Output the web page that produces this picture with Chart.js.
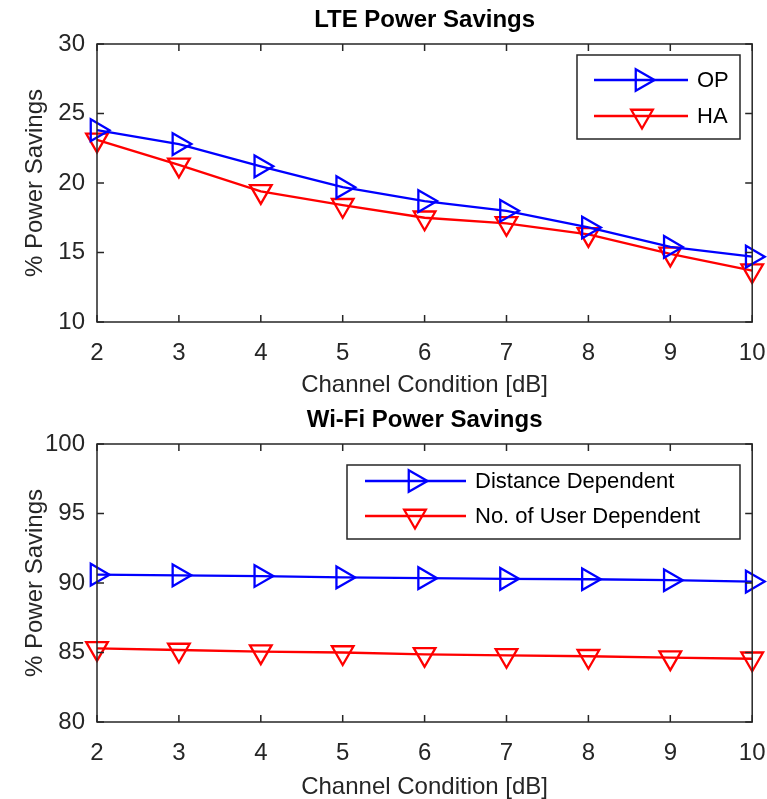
<!DOCTYPE html>
<html>
<head>
<meta charset="utf-8">
<title>LTE / Wi-Fi Power Savings</title>
<script src="https://cdn.jsdelivr.net/npm/chart.js@4.4.1/dist/chart.umd.min.js"></script>
<style>
  html, body { margin: 0; padding: 0; background: #fff; overflow: hidden; }
  .panel { width: 767px; height: 400px; }
  canvas { display: block; }
</style>
</head>
<body>
<div class="panel"><canvas id="lteChart" width="767" height="400"></canvas></div>
<div class="panel"><canvas id="wifiChart" width="767" height="400"></canvas></div>
<script>
// Channel condition (x axis) shared by both panels
const channelDb = [2, 3, 4, 5, 6, 7, 8, 9, 10]

// LTE panel
const lteOP = [23.8, 22.8, 21.2, 19.7, 18.7, 18.0, 16.8, 15.4, 14.7]
const lteHA = [23.1, 21.3, 19.4, 18.4, 17.5, 17.1, 16.3, 14.9, 13.7]
const lteTicks = [10, 15, 20, 25, 30]

// Wi-Fi panel
const wifiDistance = [90.6, 90.55, 90.5, 90.4, 90.35, 90.3, 90.27, 90.2, 90.1]
const wifiUsers = [85.3, 85.18, 85.06, 85.0, 84.87, 84.8, 84.73, 84.63, 84.55]
const wifiTicks = [80, 85, 90, 95, 100]

const FONT = "'Liberation Sans', Arial, Helvetica, sans-serif"
const AXIS_COLOR = "#262626"
const LINE_W = 2.3

// Draw a Chart.js-style triangle (circumradius r, rotation in degrees)
function triangle(ctx, x, y, r, rotation, color) {
  let rad = (rotation * Math.PI) / 180
  ctx.beginPath()
  for (let i = 0; i < 3; i++) {
    const px = x + Math.sin(rad) * r
    const py = y - Math.cos(rad) * r
    if (i === 0) ctx.moveTo(px, py)
    else ctx.lineTo(px, py)
    rad += (2 * Math.PI) / 3
  }
  ctx.closePath()
  ctx.strokeStyle = color
  ctx.lineWidth = LINE_W
  ctx.stroke()
}

// MATLAB-like box around the plot area with inward ticks on all sides,
// plus the bold title centred over the axes
const boxAxes = {
  id: "boxAxes",
  afterDatasetsDraw(chart, args, opts) {
    const { ctx, chartArea: a, scales } = chart
    const len = 7
    ctx.save()
    ctx.strokeStyle = AXIS_COLOR
    ctx.lineWidth = 1.5
    ctx.strokeRect(a.left, a.top, a.right - a.left, a.bottom - a.top)
    ctx.beginPath()
    scales.x.ticks.forEach((t) => {
      const px = scales.x.getPixelForValue(t.value)
      ctx.moveTo(px, a.bottom)
      ctx.lineTo(px, a.bottom - len)
      ctx.moveTo(px, a.top)
      ctx.lineTo(px, a.top + len)
    })
    scales.y.ticks.forEach((t) => {
      const py = scales.y.getPixelForValue(t.value)
      ctx.moveTo(a.left, py)
      ctx.lineTo(a.left + len, py)
      ctx.moveTo(a.right, py)
      ctx.lineTo(a.right - len, py)
    })
    ctx.stroke()

    ctx.fillStyle = "#000"
    ctx.font = `bold 24px ${FONT}`
    ctx.textAlign = "center"
    ctx.textBaseline = "middle"
    ctx.fillText(opts.title, (a.left + a.right) / 2, opts.titleY)
    ctx.restore()
  },
}

// Boxed legend with line + marker samples, placed inside the axes
const boxLegend = {
  id: "boxLegend",
  afterDraw(chart, args, opts) {
    const { ctx } = chart
    ctx.save()
    ctx.fillStyle = "#fff"
    ctx.fillRect(opts.left, opts.top, opts.width, opts.height)
    ctx.strokeStyle = AXIS_COLOR
    ctx.lineWidth = 1.5
    ctx.strokeRect(opts.left, opts.top, opts.width, opts.height)
    chart.data.datasets.forEach((ds, i) => {
      const y = opts.top + opts.rows[i]
      ctx.beginPath()
      ctx.moveTo(opts.left + opts.lineStart, y)
      ctx.lineTo(opts.left + opts.lineEnd, y)
      ctx.strokeStyle = ds.borderColor
      ctx.lineWidth = LINE_W
      ctx.stroke()
      triangle(ctx, opts.left + opts.marker, y, ds.pointRadius, ds.pointRotation, ds.borderColor)
      ctx.fillStyle = "#000"
      ctx.font = `${opts.fontSize}px ${FONT}`
      ctx.textBaseline = "middle"
      ctx.textAlign = "left"
      ctx.fillText(ds.label, opts.left + opts.textStart, y + 1)
    })
    ctx.restore()
  },
}

function series(label, values, color, rotation) {
  return {
    label: label,
    data: channelDb.map((x, i) => ({ x: x, y: values[i] })),
    borderColor: color,
    backgroundColor: "rgba(0,0,0,0)",
    borderWidth: LINE_W,
    pointStyle: "triangle",
    pointRotation: rotation,
    pointRadius: 12.5,
    pointBorderWidth: LINE_W,
    pointBorderColor: color,
    pointBackgroundColor: "rgba(0,0,0,0)",
    tension: 0,
    clip: false,
  }
}

function makeChart(canvasId, title, datasets, yTicks, legendBox, xTitlePad) {
  const ctx = document.getElementById(canvasId).getContext("2d")
  return new Chart(ctx, {
    type: "line",
    data: { datasets: datasets },
    plugins: [boxAxes, boxLegend],
    options: {
      responsive: false,
      animation: false,
      layout: { padding: { left: 0, right: 0, top: 44, bottom: 0 } },
      plugins: {
        legend: { display: false },
        tooltip: { enabled: false },
        title: { display: false },
        boxAxes: { title: title, titleY: 20 },
        boxLegend: legendBox,
      },
      scales: {
        x: {
          type: "linear",
          min: channelDb[0],
          max: channelDb[channelDb.length - 1],
          grid: { display: false, drawTicks: false },
          border: { display: false },
          ticks: { stepSize: 1, color: AXIS_COLOR, padding: 17, maxRotation: 0, font: { family: FONT, size: 24 } },
          title: {
            display: true,
            text: "Channel Condition [dB]",
            color: AXIS_COLOR,
            font: { family: FONT, size: 24 },
            padding: { top: 0, bottom: xTitlePad },
          },
          afterFit: (s) => {
            // fixed axis band and a fixed right margin of 14px
            s.height = 78
            s.paddingLeft = 0
            s.paddingRight = 14
          },
        },
        y: {
          min: yTicks[0],
          max: yTicks[yTicks.length - 1],
          grid: { display: false, drawTicks: false },
          border: { display: false },
          ticks: { stepSize: yTicks[1] - yTicks[0], color: AXIS_COLOR, padding: 12, font: { family: FONT, size: 24 } },
          title: {
            display: true,
            text: "% Power Savings",
            color: AXIS_COLOR,
            font: { family: FONT, size: 24 },
            padding: { top: 21, bottom: 0 },
          },
          afterFit: (s) => {
            s.width = 97
            s.paddingTop = 0
            s.paddingBottom = 0
          },
        },
      },
    },
  })
}

makeChart(
  "lteChart",
  "LTE Power Savings",
  [series("OP", lteOP, "#0000ff", 90), series("HA", lteHA, "#ff0000", 180)],
  lteTicks,
  { left: 577, top: 55, width: 163, height: 84, rows: [25, 61], lineStart: 17, lineEnd: 111, marker: 65, textStart: 120, fontSize: 22 },
  0
)

makeChart(
  "wifiChart",
  "Wi-Fi Power Savings",
  [series("Distance Dependent", wifiDistance, "#0000ff", 90), series("No. of User Dependent", wifiUsers, "#ff0000", 180)],
  wifiTicks,
  { left: 347, top: 65, width: 393, height: 74, rows: [16, 51], lineStart: 18, lineEnd: 119, marker: 68, textStart: 128, fontSize: 22 },
  -2
)
</script>
</body>
</html>
